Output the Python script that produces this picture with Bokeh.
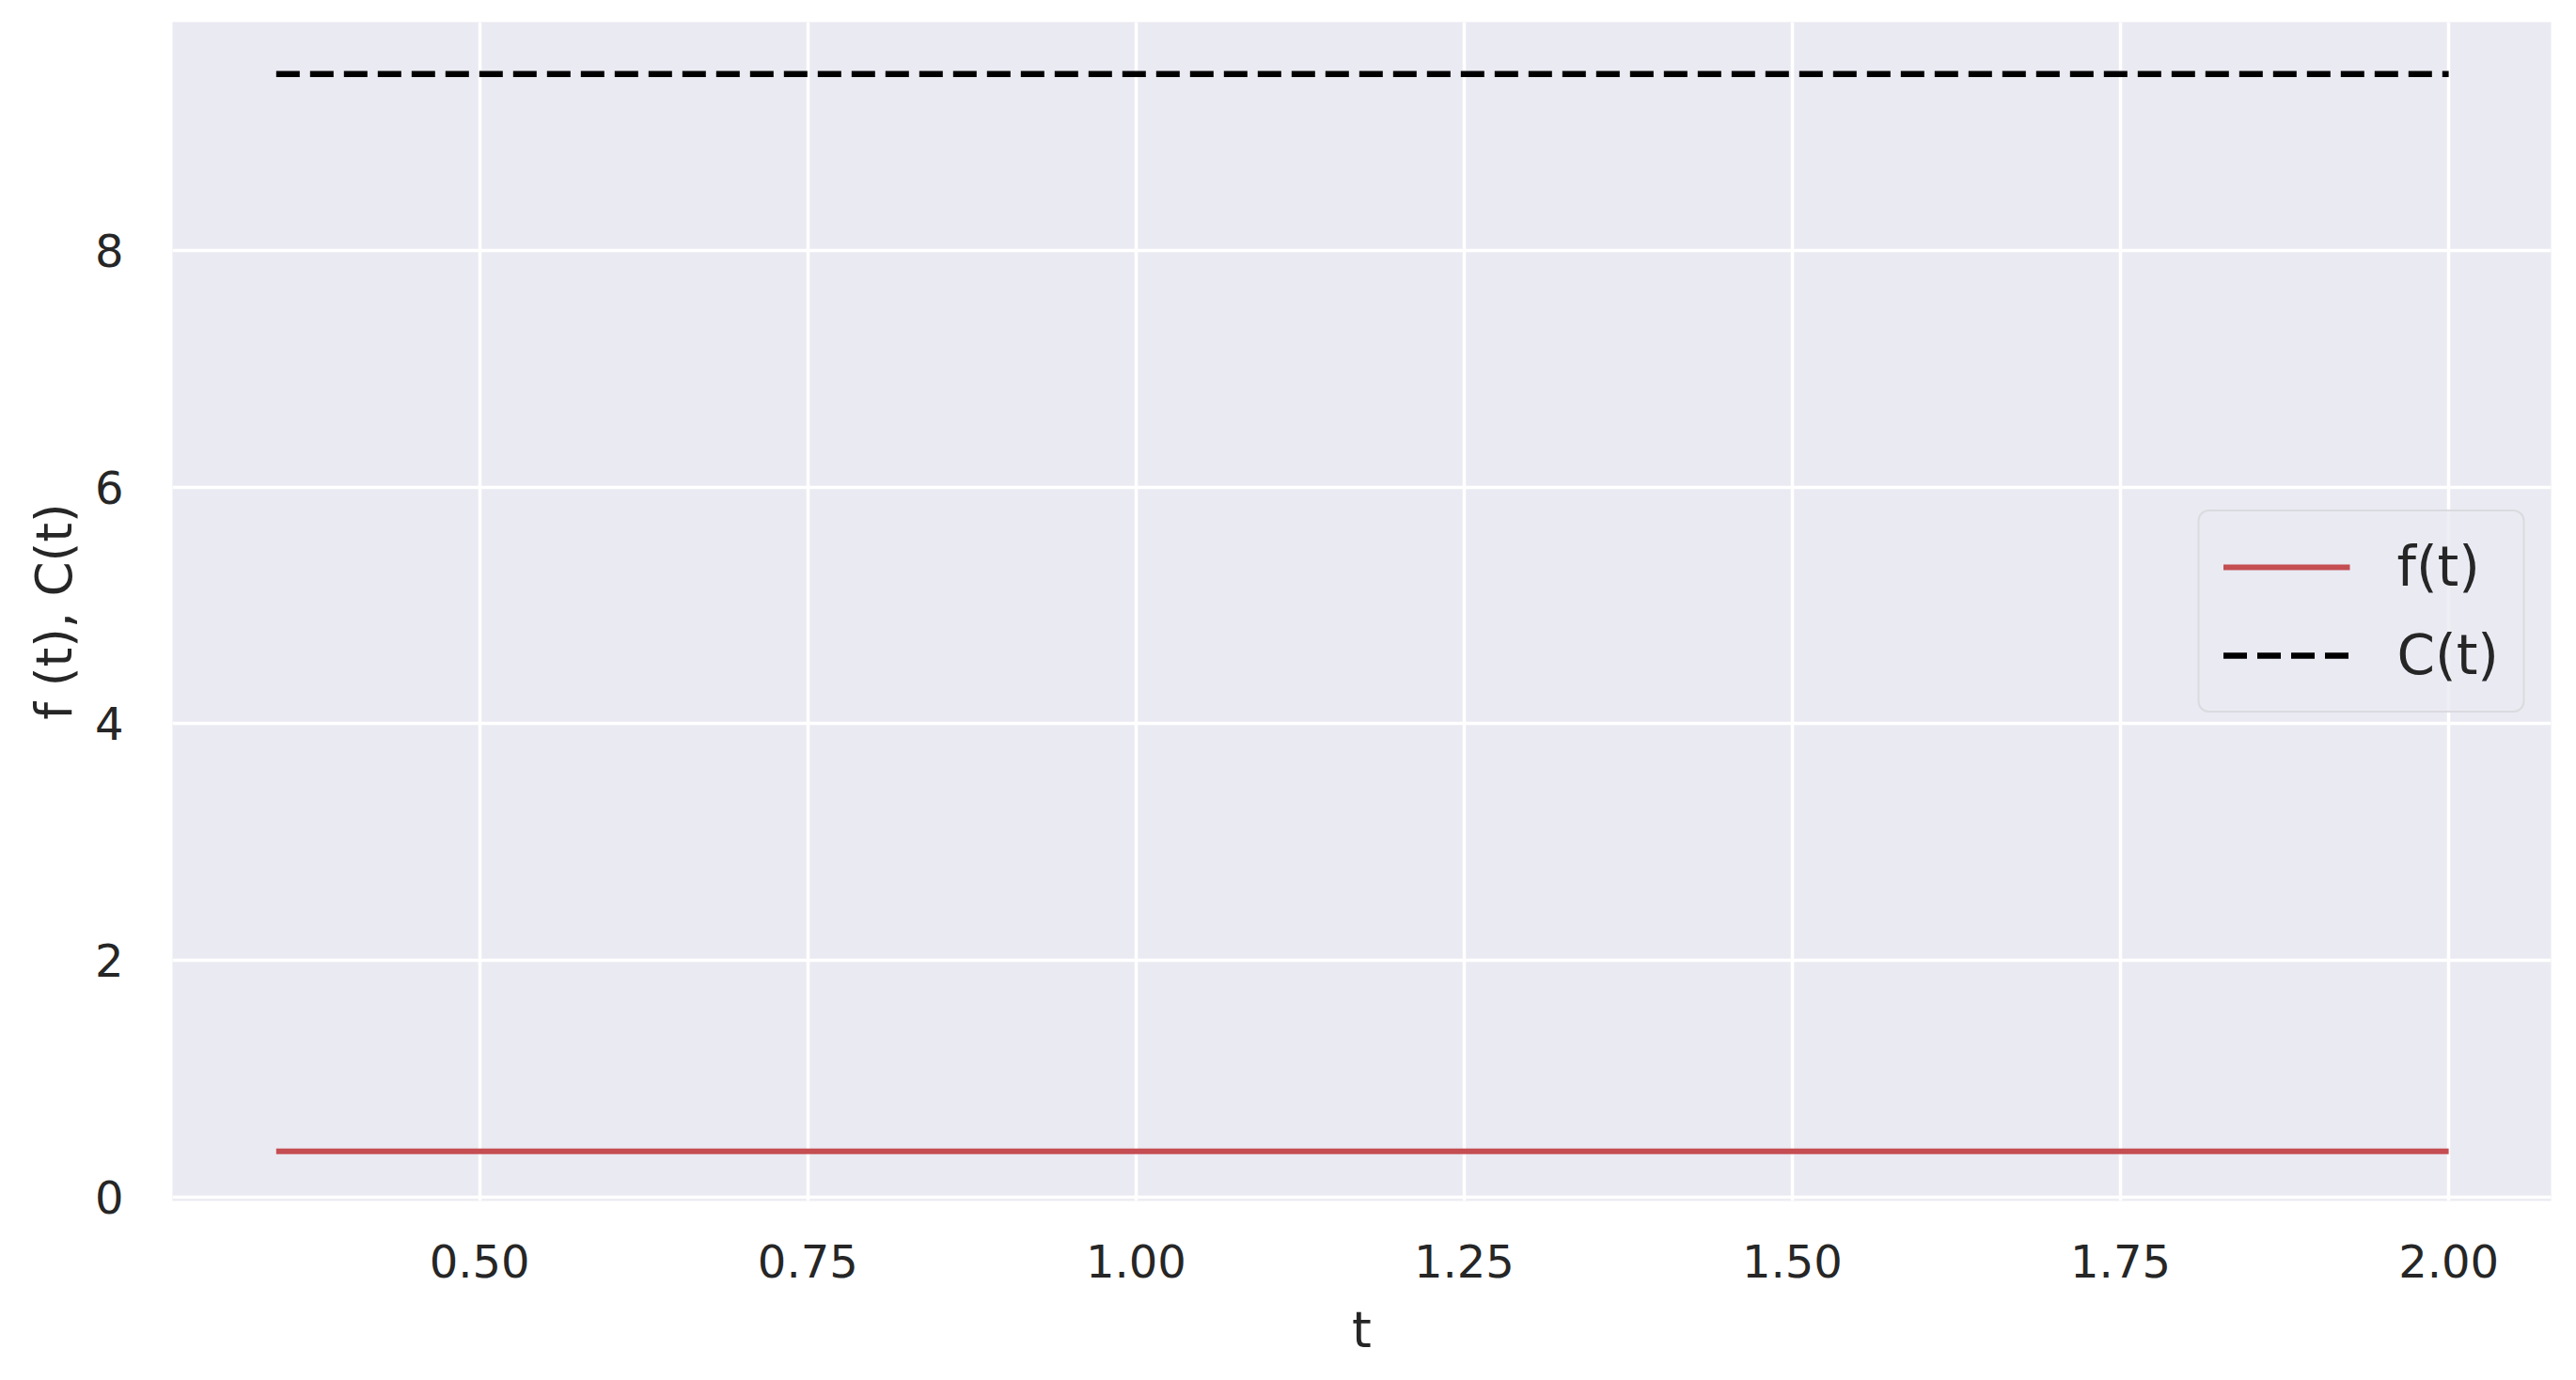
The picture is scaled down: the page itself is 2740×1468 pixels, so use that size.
from bokeh.plotting import figure
from bokeh.models import Range1d, FixedTicker, Legend, LegendItem
from bokeh.embed import file_html
from bokeh.resources import INLINE

# ---- data ----
t_vals = [0.345, 2.0]
f_vals = [0.385, 0.385]
C_vals = [9.49, 9.49]
x_ticks = [0.50, 0.75, 1.00, 1.25, 1.50, 1.75, 2.00]
x_tick_labels = ["0.50", "0.75", "1.00", "1.25", "1.50", "1.75", "2.00"]
y_ticks = [0, 2, 4, 6, 8]
y_tick_labels = ["0", "2", "4", "6", "8"]
series_names = ["f(t)", "C(t)"]

FONT = "DejaVu Sans"
TXT = "#262626"

p = figure(width=2724, height=1452, output_backend="svg", toolbar_location=None,
           x_range=Range1d(0.266, 2.078), y_range=Range1d(-0.035, 9.93),
           min_border_left=183, min_border_right=11, min_border_top=23, min_border_bottom=175)
p.background_fill_color = "#EAEAF2"
p.border_fill_color = "white"
p.outline_line_color = None

r1 = p.line(t_vals, f_vals, line_color="#C44E52", line_width=6)
r2 = p.line(t_vals, C_vals, line_color="black", line_width=6.5, line_dash="25 11")

for ax in (p.xaxis[0], p.yaxis[0]):
    ax.axis_line_color = None
    ax.major_tick_line_color = None
    ax.minor_tick_line_color = None
    ax.major_label_text_font = FONT
    ax.major_label_text_font_size = "48px"
    ax.major_label_text_color = TXT
    ax.axis_label_text_font = FONT
    ax.axis_label_text_font_size = "53px"
    ax.axis_label_text_font_style = "normal"
    ax.axis_label_text_color = TXT

p.xaxis[0].ticker = FixedTicker(ticks=x_ticks)
p.xaxis[0].major_label_overrides = {v: s for v, s in zip(x_ticks, x_tick_labels)}
p.yaxis[0].ticker = FixedTicker(ticks=y_ticks)
p.yaxis[0].major_label_overrides = {v: s for v, s in zip(y_ticks, y_tick_labels)}
p.xaxis[0].axis_label = "t"
p.yaxis[0].axis_label = "f (t), C(t)"
p.xaxis[0].major_label_standoff = 40
p.yaxis[0].major_label_standoff = 46
p.xaxis[0].axis_label_standoff = 22
p.yaxis[0].axis_label_standoff = 10

p.xgrid.grid_line_color = "white"
p.ygrid.grid_line_color = "white"
p.xgrid.grid_line_width = 3.5
p.ygrid.grid_line_width = 3.5

legend = Legend(items=[LegendItem(label=series_names[0], renderers=[r1]),
                       LegendItem(label=series_names[1], renderers=[r2])],
                location="center_right")
legend.margin = 28
legend.padding = 25
legend.spacing = 26
legend.glyph_width = 135
legend.glyph_height = 62
legend.label_height = 62
legend.label_standoff = 50
legend.label_text_font = FONT
legend.label_text_font_size = "58px"
legend.label_text_color = TXT
legend.background_fill_color = "#EAEAF2"
legend.background_fill_alpha = 0.8
legend.border_line_color = "#cccccc"
legend.border_line_width = 2
try:
    legend.border_radius = 12
except Exception:
    pass
p.add_layout(legend)

open("out.html", "w").write(file_html(p, INLINE))
